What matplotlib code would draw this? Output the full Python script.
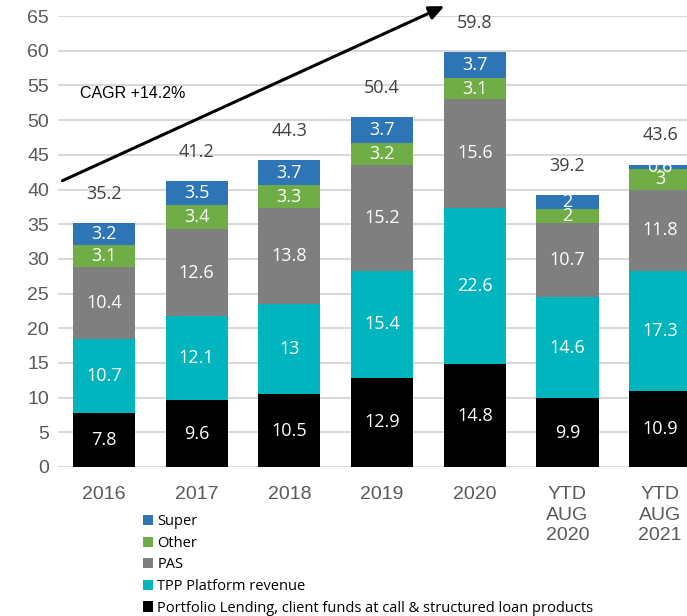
#!/usr/bin/env python3
"""Stacked revenue bars by segment, 2016 to YTD Aug 2021."""

import matplotlib

matplotlib.use("Agg")
import matplotlib.pyplot as plt
import numpy as np
from matplotlib.patches import Patch

CATEGORIES = ["2016", "2017", "2018", "2019", "2020", "YTD\nAUG\n2020", "YTD\nAUG\n2021"]
PORTFOLIO = [7.8, 9.6, 10.5, 12.9, 14.8, 9.9, 10.9]
TPP = [10.7, 12.1, 13, 15.4, 22.6, 14.6, 17.3]
PAS = [10.4, 12.6, 13.8, 15.2, 15.6, 10.7, 11.8]
OTHER = [3.1, 3.4, 3.3, 3.2, 3.1, 2, 3]
SUPER = [3.2, 3.5, 3.7, 3.7, 3.7, 2, 0.6]
TOTALS = [35.2, 41.2, 44.3, 50.4, 59.8, 39.2, 43.6]

SERIES = [
    ("Portfolio Lending, client funds at call & structured loan products", PORTFOLIO, "#000000"),
    ("TPP Platform revenue", TPP, "#00B5BE"),
    ("PAS", PAS, "#7F7F7F"),
    ("Other", OTHER, "#70AD47"),
    ("Super", SUPER, "#2E75B6"),
]

LABEL_FONT = ["Open Sans", "DejaVu Sans"]
AXIS_FONT = ["Liberation Sans", "DejaVu Sans"]

fig = plt.figure(figsize=(6.87, 6.16), dpi=100)
ax = fig.add_axes([0.0838, 0.2419, 0.9446, 0.732])

x = np.arange(len(CATEGORIES))
bottom = np.zeros(len(CATEGORIES))
for name, vals, color in SERIES:
    vals = np.array(vals, dtype=float)
    ax.bar(x, vals, width=0.67, bottom=bottom, color=color, linewidth=0, zorder=2)
    for xi, b, v in zip(x, bottom, vals):
        ax.text(xi, b + v / 2, f"{v:g}", ha="center", va="center", color="white",
                fontsize=13, family=LABEL_FONT, zorder=3)
    bottom += vals

for xi, tot in zip(x, TOTALS):
    ax.text(xi, tot + 4.2, f"{tot:g}", ha="center", va="center", color="#404040",
            fontsize=13, family=LABEL_FONT)

ax.set_xlim(-0.5, len(CATEGORIES) - 0.5)
ax.set_ylim(0, 65)
ax.set_yticks(np.arange(0, 66, 5))
ax.set_xticks(x)
ax.set_xticklabels(CATEGORIES, fontsize=14, family=AXIS_FONT, color="#595959", linespacing=1.25)
for lab in ax.get_yticklabels():
    lab.set_fontsize(14)
    lab.set_family(AXIS_FONT)
    lab.set_color("#595959")
ax.tick_params(length=0, pad=6)
ax.tick_params(axis="x", pad=14)
for s in ax.spines.values():
    s.set_visible(False)
ax.grid(axis="y", color="#D9D9D9", linewidth=1.5, zorder=0)
ax.set_axisbelow(True)

ax.annotate("", xy=(3.70, 66.6), xytext=(-0.475, 41.1),
            arrowprops=dict(arrowstyle="-|>,head_length=0.9,head_width=0.4", color="black", lw=2.2),
            annotation_clip=False)
ax.text(-0.26, 53.9, "CAGR +14.2%", ha="left", va="center", fontsize=11.5,
        family=AXIS_FONT, color="black")

handles = [Patch(facecolor=c, label=n) for n, _, c in reversed(SERIES)]
fig.legend(handles=handles, loc="upper left", bbox_to_anchor=(0.208, 0.165), frameon=False,
           prop={"family": LABEL_FONT, "size": 10.5}, handlelength=0.7, handleheight=0.7,
           handletextpad=0.3, labelspacing=0.45, borderaxespad=0, borderpad=0)

fig.savefig("out.png", dpi=100)
